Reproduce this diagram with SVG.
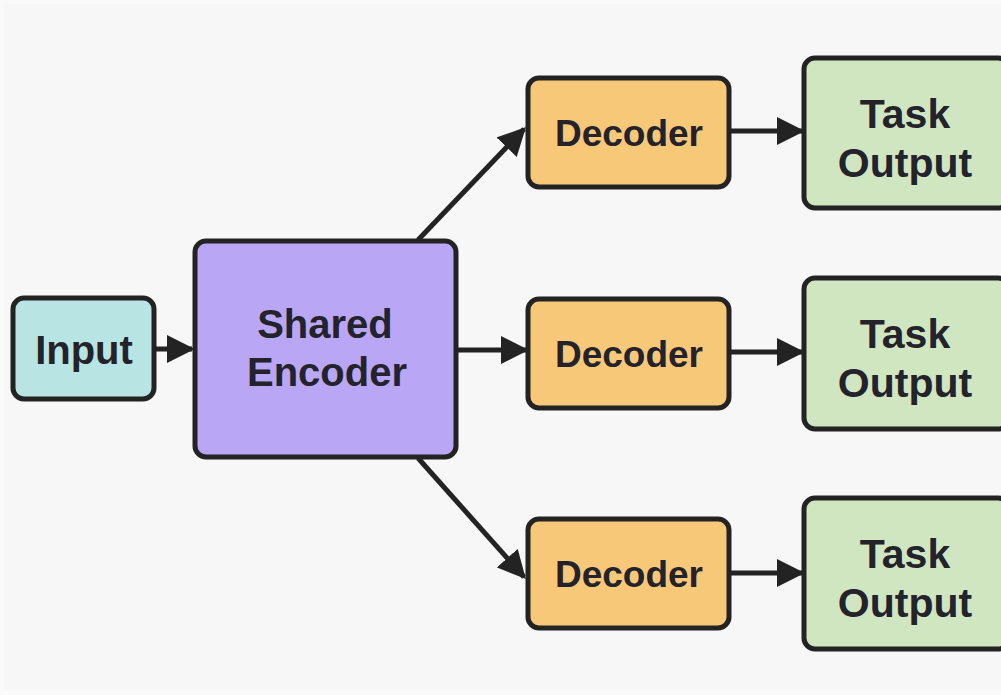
<svg xmlns="http://www.w3.org/2000/svg" width="1001" height="695" viewBox="0 0 1001 695">
<defs>
<style>
.box{stroke:#232323;stroke-width:5}
.in{fill:#b8e5e3}.enc{fill:#b9a7f6}.dec{fill:#f8c879}.task{fill:#cfe6c0}
text{font-family:"Liberation Sans",Arial,sans-serif;font-weight:700;font-size:40px;fill:#24232b;text-anchor:middle}
.d{font-size:37px}.t{font-size:41px}
.c{stroke:#232323;stroke-width:5;fill:none}
</style>
<marker id="ah" viewBox="0 0 10 10" refX="9" refY="5" markerWidth="5.6" markerHeight="5.6" markerUnits="strokeWidth" orient="auto">
<path d="M0,0 L10,5 L0,10 Z" fill="#232323"/>
</marker>
</defs>
<rect width="1001" height="695" fill="#fafafa"/>
<rect x="4" y="4" width="997" height="686" fill="#f7f7f7"/>
<g id="connectors">
<line class="c" x1="155" y1="349" x2="192" y2="349" marker-end="url(#ah)"/>
<line class="c" x1="457" y1="350" x2="526" y2="350" marker-end="url(#ah)"/>
<line class="c" x1="418" y1="240" x2="524" y2="129" marker-end="url(#ah)"/>
<line class="c" x1="418" y1="458" x2="524" y2="577" marker-end="url(#ah)"/>
<line class="c" x1="730" y1="131" x2="802" y2="131" marker-end="url(#ah)"/>
<line class="c" x1="730" y1="352" x2="802" y2="352" marker-end="url(#ah)"/>
<line class="c" x1="730" y1="573" x2="802" y2="573" marker-end="url(#ah)"/>
</g>
<g id="input">
<rect class="box in" x="13" y="298" width="141" height="101" rx="11"/>
<text x="84" y="364">Input</text>
</g>
<g id="encoder">
<rect class="box enc" x="195" y="241" width="261" height="216" rx="11"/>
<text x="325" y="338">Shared</text>
<text x="327" y="386">Encoder</text>
</g>
<g id="decoder1">
<rect class="box dec" x="528" y="78" width="201" height="109" rx="11"/>
<text class="d" x="629" y="146">Decoder</text>
</g>
<g id="decoder2">
<rect class="box dec" x="528" y="299" width="201" height="109" rx="11"/>
<text class="d" x="629" y="367">Decoder</text>
</g>
<g id="decoder3">
<rect class="box dec" x="528" y="519" width="201" height="109" rx="11"/>
<text class="d" x="629" y="587">Decoder</text>
</g>
<g id="task1">
<rect class="box task" x="804" y="58" width="205" height="150" rx="11"/>
<text class="t" x="905" y="128">Task</text>
<text class="t" x="905" y="177">Output</text>
</g>
<g id="task2">
<rect class="box task" x="804" y="278" width="205" height="151" rx="11"/>
<text class="t" x="905" y="348">Task</text>
<text class="t" x="905" y="397">Output</text>
</g>
<g id="task3">
<rect class="box task" x="804" y="498" width="205" height="151" rx="11"/>
<text class="t" x="905" y="568">Task</text>
<text class="t" x="905" y="617">Output</text>
</g>
</svg>
